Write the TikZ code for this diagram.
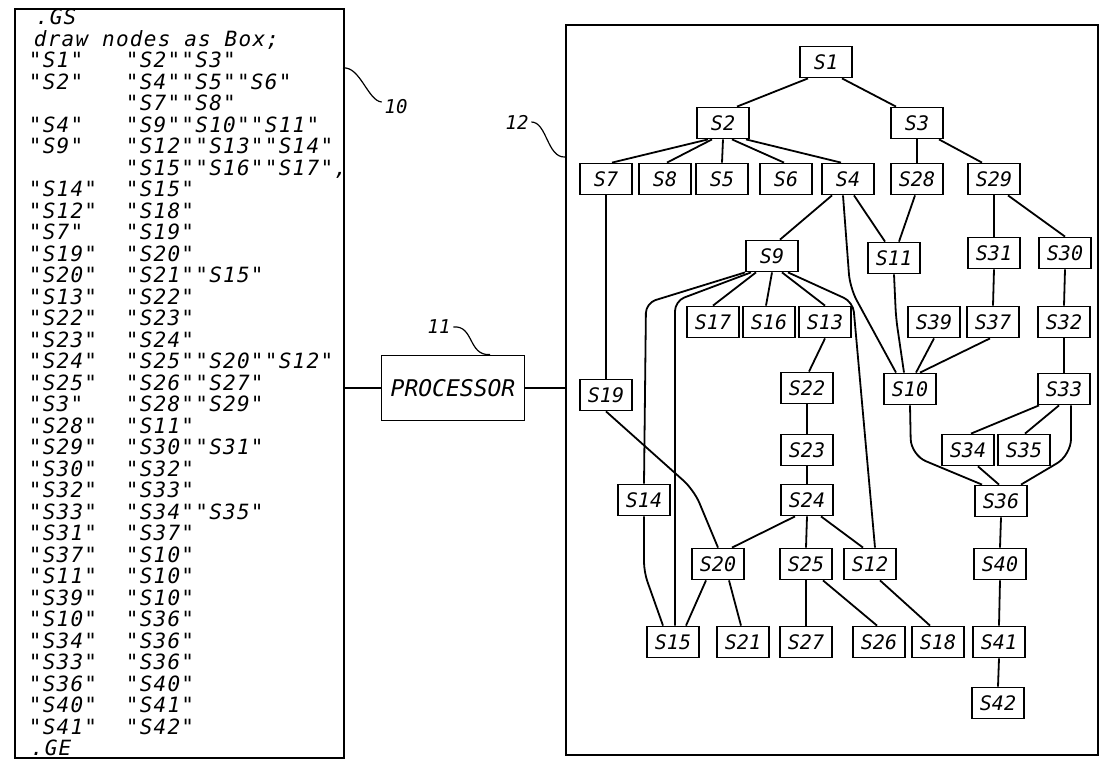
\documentclass[tikz,border=0pt]{standalone}
\usepackage{fontspec}
\newfontfamily\gsfont{DejaVu Sans Mono Oblique}
\newfontfamily\listfont{DejaVu Sans Mono Oblique}[LetterSpace=6]
\newcommand\gsrow[2]{\makebox[97pt][l]{#1}#2}
\usetikzlibrary{calc}

\begin{document}
\begin{tikzpicture}[x=1pt, y=-1pt, line width=1.8pt,
    sbox/.style={draw, minimum width=52pt, minimum height=31pt, inner sep=0pt,
        font=\gsfont\fontsize{20}{22}\selectfont},
    panel/.style={draw, line width=2pt, inner sep=0pt, anchor=north west},
    numlabel/.style={inner sep=2pt, font=\gsfont\fontsize{19}{21}\selectfont},
    lead/.style={line width=1.2pt}
    ]
            \useasboundingbox (0,0) rectangle (1100,760);

            % the two panels and the processor between them
            \node[panel, minimum width=329pt, minimum height=749pt] (code) at (14,8) {};
            \node[panel, minimum width=532pt, minimum height=730pt] (graph) at (565,24) {};
            \node[draw, minimum width=143pt, minimum height=65pt, inner sep=0pt,
                font=\gsfont\fontsize{23}{25}\selectfont] (proc) at (453,388) {PROCESSOR};

            \draw (code.east |- proc.west) -- (proc.west);
            \draw (proc.east) -- (graph.west |- proc.east);

            % listing
            \node[anchor=north west, inner sep=0pt, align=left,
                font=\listfont\fontsize{21}{21.5}\selectfont] (listing) at (28,8.5) {%
            \hspace{7pt}.GS\\
            \hspace{5pt}draw nodes as Box;\\
            \gsrow{"S1"}{"S2""S3"}\\
            \gsrow{"S2"}{"S4""S5""S6"}\\
            \gsrow{}{"S7""S8"}\\
            \gsrow{"S4"}{"S9""S10""S11"}\\
            \gsrow{"S9"}{"S12""S13""S14"}\\
            \gsrow{}{"S15""S16""S17",}\\
            \gsrow{"S14"}{"S15"}\\
            \gsrow{"S12"}{"S18"}\\
            \gsrow{"S7"}{"S19"}\\
            \gsrow{"S19"}{"S20"}\\
            \gsrow{"S20"}{"S21""S15"}\\
            \gsrow{"S13"}{"S22"}\\
            \gsrow{"S22"}{"S23"}\\
            \gsrow{"S23"}{"S24"}\\
            \gsrow{"S24"}{"S25""S20""S12"}\\
            \gsrow{"S25"}{"S26""S27"}\\
            \gsrow{"S3"}{"S28""S29"}\\
            \gsrow{"S28"}{"S11"}\\
            \gsrow{"S29"}{"S30""S31"}\\
            \gsrow{"S30"}{"S32"}\\
            \gsrow{"S32"}{"S33"}\\
            \gsrow{"S33"}{"S34""S35"}\\
            \gsrow{"S31"}{"S37"}\\
            \gsrow{"S37"}{"S10"}\\
            \gsrow{"S11"}{"S10"}\\
            \gsrow{"S39"}{"S10"}\\
            \gsrow{"S10"}{"S36"}\\
            \gsrow{"S34"}{"S36"}\\
            \gsrow{"S33"}{"S36"}\\
            \gsrow{"S36"}{"S40"}\\
            \gsrow{"S40"}{"S41"}\\
            \gsrow{"S41"}{"S42"}\\
            \hspace{2pt}.GE};

            % reference numerals
            \node[numlabel] (n10) at (396,107) {10};
            \node[numlabel] (n11) at (439,327) {11};
            \node[numlabel] (n12) at (517,122) {12};
            \coordinate (e10) at (343,68);
            \coordinate (e12) at (565,157);
            \draw[lead] ([yshift=5pt]n10.west) .. controls (368,101) and (360,66) .. (e10);
            \draw[lead] (n11.east) .. controls (474,325) and (468,356) .. ([xshift=37pt]proc.north);
            \draw[lead] (n12.east) .. controls (547,122) and (547,158) .. (e12);

            % boxes
            \node[sbox] (S1)  at (826,62)  {S1};
            \node[sbox] (S2)  at (723,123) {S2};
            \node[sbox] (S3)  at (917,123) {S3};
            \node[sbox] (S7)  at (606,179) {S7};
            \node[sbox] (S8)  at (665,179) {S8};
            \node[sbox] (S5)  at (722,179) {S5};
            \node[sbox] (S6)  at (786,179) {S6};
            \node[sbox] (S4)  at (848,179) {S4};
            \node[sbox] (S28) at (917,179) {S28};
            \node[sbox] (S29) at (994,179) {S29};
            \node[sbox] (S9)  at (772,256) {S9};
            \node[sbox] (S11) at (894,258) {S11};
            \node[sbox] (S31) at (994,253) {S31};
            \node[sbox] (S30) at (1065,253) {S30};
            \node[sbox] (S17) at (713,322) {S17};
            \node[sbox] (S16) at (769,322) {S16};
            \node[sbox] (S13) at (825,322) {S13};
            \node[sbox] (S39) at (934,322) {S39};
            \node[sbox] (S37) at (993,322) {S37};
            \node[sbox] (S32) at (1064,322) {S32};
            \node[sbox] (S19) at (606,395) {S19};
            \node[sbox] (S22) at (807,388) {S22};
            \node[sbox] (S10) at (910,389) {S10};
            \node[sbox] (S33) at (1064,389) {S33};
            \node[sbox] (S23) at (807,450) {S23};
            \node[sbox] (S34) at (968,450) {S34};
            \node[sbox] (S35) at (1024,450) {S35};
            \node[sbox] (S14) at (644,500) {S14};
            \node[sbox] (S24) at (807,500) {S24};
            \node[sbox] (S36) at (1001,501) {S36};
            \node[sbox] (S20) at (718,564) {S20};
            \node[sbox] (S25) at (806,564) {S25};
            \node[sbox] (S12) at (870,564) {S12};
            \node[sbox] (S40) at (1000,564) {S40};
            \node[sbox] (S15) at (673,642) {S15};
            \node[sbox] (S21) at (743,642) {S21};
            \node[sbox] (S27) at (806,642) {S27};
            \node[sbox] (S26) at (879,642) {S26};
            \node[sbox] (S18) at (938,642) {S18};
            \node[sbox] (S41) at (999,642) {S41};
            \node[sbox] (S42) at (998,703) {S42};

            % straight links
            \path
            ([xshift=-18pt]S1.south)  edge ([xshift=14pt]S2.north)
            ([xshift=16pt]S1.south)   edge ([xshift=-21pt]S3.north)
            ([xshift=-15pt]S2.south)  edge ([xshift=6pt]S7.north)
            ([xshift=-11pt]S2.south)  edge ([xshift=2pt]S8.north)
            (S2.south)                edge (S5.north)
            ([xshift=9pt]S2.south)    edge ([xshift=-2pt]S6.north)
            ([xshift=23pt]S2.south)   edge ([xshift=-7pt]S4.north)
            (S3.south)                edge (S28.north)
            ([xshift=22pt]S3.south)   edge ([xshift=-12pt]S29.north)
            ([xshift=-16pt]S4.south)  edge ([xshift=8pt]S9.north)
            ([xshift=6pt]S4.south)    edge ([xshift=-9pt]S11.north)
            ([xshift=-2pt]S28.south)  edge ([xshift=5pt]S11.north)
            (S29.south)               edge (S31.north)
            ([xshift=14pt]S29.south)  edge (S30.north)
            ([xshift=-16pt]S9.south)  edge (S17.north)
            (S9.south)                edge ([xshift=-3pt]S16.north)
            ([xshift=10pt]S9.south)   edge (S13.north)
            (S31.south)               edge (S37.north)
            (S30.south)               edge (S32.north)
            (S32.south)               edge (S33.north)
            (S39.south)               edge ([xshift=6pt]S10.north)
            ([xshift=-3pt]S37.south)  edge ([xshift=10pt]S10.north)
            (S7.south)                edge (S19.north)
            (S13.south)               edge ([xshift=2pt]S22.north)
            (S22.south)               edge (S23.north)
            (S23.south)               edge (S24.north)
            ([xshift=-12pt]S24.south) edge ([xshift=14pt]S20.north)
            (S24.south)               edge (S25.north)
            ([xshift=14pt]S24.south)  edge ([xshift=-7pt]S12.north)
            (S25.south)               edge (S27.north)
            ([xshift=17pt]S25.south)  edge ([xshift=-2pt]S26.north)
            ([xshift=10pt]S12.south)  edge ([xshift=-8pt]S18.north)
            ([xshift=-12pt]S20.south) edge ([xshift=13pt]S15.north)
            ([xshift=11pt]S20.south)  edge ([xshift=-2pt]S21.north)
            ([xshift=-25pt]S33.south) edge ([xshift=3pt]S34.north)
            ([xshift=-5pt]S33.south)  edge ([xshift=1pt]S35.north)
            ([xshift=10pt]S34.south)  edge ([xshift=-2pt]S36.north)
            (S36.south)               edge (S40.north)
            (S40.south)               edge (S41.north)
            (S41.south)               edge (S42.north);

            % bent links
            \draw[rounded corners=14pt] ([xshift=-5pt]S4.south) -- (850,288) -- ([xshift=-14pt]S10.north);
            \draw[rounded corners=10pt] (S9.south west) -- (646,303) -- (S14.north);
            \draw[rounded corners=10pt] ([xshift=-21pt]S9.south) -- (675,301) -- ([xshift=2pt]S15.north);
            \draw[rounded corners=10pt] ([xshift=16pt]S9.south) -- (853,302) -- ([xshift=5pt]S12.north);
            \draw[rounded corners=10pt] (S11.south) -- (896,318) -- ([xshift=-6pt]S10.north);
            \draw[rounded corners=14pt] (S19.south) -- (694,490) -- (S20.north);
            \draw[rounded corners=10pt] (S14.south) -- (644,572) -- ([xshift=-10pt]S15.north);
            \draw[rounded corners=16pt] (S10.south) -- (911,455) -- ([xshift=-19pt]S36.north);
            \draw[rounded corners=16pt] ([xshift=7pt]S33.south) -- (1071,455) -- ([xshift=20pt]S36.north);
        \end{tikzpicture}
\end{document}
